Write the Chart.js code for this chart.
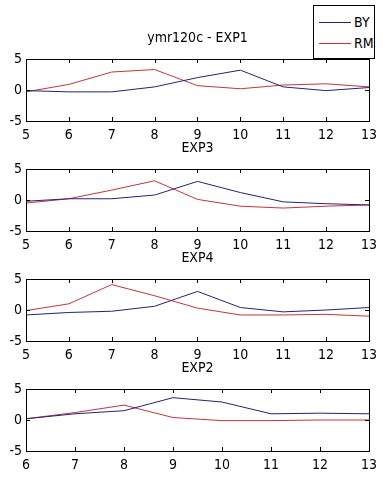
<!DOCTYPE html>
<html>
<head>
<meta charset="utf-8">
<script src="https://cdn.jsdelivr.net/npm/chart.js@4.4.0/dist/chart.umd.min.js"></script>
<style>
  html, body { margin: 0; padding: 0; background: #fff; }
  body { width: 383px; height: 479px; position: relative; overflow: hidden; }
  .panel { position: absolute; left: 0; width: 383px; height: 110px; }
  #legend {
    position: absolute; left: 313px; top: 5px; width: 60px; height: 52px;
    border: 1px solid #000; background: #fff;
    font-family: "Liberation Sans Narrow", "DejaVu Sans Condensed", sans-serif; font-size: 14px;
  }
  .row { position: absolute; left: 0; width: 60px; height: 14px; }
  .row span.ln { position: absolute; left: 5px; top: 7px; width: 32px; height: 1px; }
  .row span.tx { position: absolute; left: 40px; top: 0; line-height: 14px; }
</style>
</head>
<body>
<div class="panel" style="top:31px"><canvas id="c1"></canvas></div>
<div class="panel" style="top:141px"><canvas id="c2"></canvas></div>
<div class="panel" style="top:251px"><canvas id="c3"></canvas></div>
<div class="panel" style="top:361px"><canvas id="c4"></canvas></div>
<div id="legend">
  <div class="row" style="top:9px"><span class="ln" style="background:#22227a"></span><span class="tx">BY</span></div>
  <div class="row" style="top:30px"><span class="ln" style="background:#c8323a"></span><span class="tx">RM</span></div>
</div>
<script>
// series data
const seriesNames = ['BY', 'RM'];
const yTicks = [-5, 0, 5];

const exp1X = [5, 6, 7, 8, 9, 10, 11, 12, 13];
const exp1BY = [-0.1, -0.3, -0.3, 0.5, 2.0, 3.2, 0.5, -0.1, 0.4];
const exp1RM = [-0.3, 0.9, 2.9, 3.3, 0.7, 0.2, 0.8, 1.0, 0.5];

const exp3X = [5, 6, 7, 8, 9, 10, 11, 12, 13];
const exp3BY = [-0.2, 0.2, 0.2, 0.8, 3.0, 1.2, -0.3, -0.6, -0.8];
const exp3RM = [-0.5, 0.2, 1.6, 3.1, 0.1, -1.0, -1.3, -1.0, -0.8];

const exp4X = [5, 6, 7, 8, 9, 10, 11, 12, 13];
const exp4BY = [-0.8, -0.4, -0.2, 0.6, 3.0, 0.4, -0.3, 0.0, 0.4];
const exp4RM = [-0.1, 1.0, 4.1, 2.3, 0.3, -0.8, -0.8, -0.7, -1.0];

const exp2X = [6, 7, 8, 9, 10, 11, 12, 13];
const exp2BY = [0.2, 1.0, 1.5, 3.6, 2.9, 1.0, 1.1, 1.0];
const exp2RM = [0.2, 1.2, 2.4, 0.4, -0.1, -0.1, 0.0, 0.0];

const FONT = "'Liberation Sans Narrow', 'DejaVu Sans Condensed', sans-serif";
const BLUE = '#22227a';
const RED = '#c8323a';

// box + inward ticks + title, matlab style
const matlabAxes = {
    id: 'matlabAxes',
    afterDraw(chart, args, opts) {
        const { ctx, chartArea: a, scales } = chart;
        ctx.save();
        ctx.strokeStyle = '#000';
        ctx.lineWidth = 1;
        ctx.strokeRect(a.left + 0.5, a.top + 0.5, a.right - a.left, a.bottom - a.top);
        ctx.beginPath();
        scales.x.ticks.forEach(t => {
            const px = Math.round(scales.x.getPixelForValue(t.value)) + 0.5;
            ctx.moveTo(px, a.bottom); ctx.lineTo(px, a.bottom - 4);
            ctx.moveTo(px, a.top); ctx.lineTo(px, a.top + 4);
        });
        scales.y.ticks.forEach(t => {
            const py = Math.round(scales.y.getPixelForValue(t.value)) + 0.5;
            ctx.moveTo(a.left, py); ctx.lineTo(a.left + 4, py);
            ctx.moveTo(a.right, py); ctx.lineTo(a.right - 4, py);
        });
        ctx.stroke();
        ctx.fillStyle = '#000';
        ctx.font = '14px ' + FONT;
        ctx.textAlign = 'center';
        ctx.textBaseline = 'alphabetic';
        ctx.fillText(opts.text, (a.left + a.right) / 2, a.top - 17);
        ctx.restore();
    }
};

function makePanel(id, title, xs, by, rm) {
    const ctx = document.getElementById(id).getContext('2d');
    const pts = arr => arr.map((v, i) => ({ x: xs[i], y: v }));
    return new Chart(ctx, {
        type: 'line',
        data: {
            datasets: [
                { label: seriesNames[0], data: pts(by), borderColor: BLUE, borderWidth: 1, pointRadius: 0, tension: 0 },
                { label: seriesNames[1], data: pts(rm), borderColor: RED, borderWidth: 1, pointRadius: 0, tension: 0 }
            ]
        },
        options: {
            responsive: false,
            animation: false,
            layout: { padding: { top: 28, right: 9, left: 0, bottom: 0 }, autoPadding: false },
            plugins: {
                legend: { display: false },
                tooltip: { enabled: false },
                matlabAxes: { text: title }
            },
            scales: {
                x: {
                    type: 'linear',
                    min: xs[0], max: xs[xs.length - 1],
                    grid: { display: false, drawTicks: false },
                    border: { display: false },
                    ticks: { stepSize: 1, color: '#000', padding: 6, maxRotation: 0, font: { family: FONT, size: 14 } },
                    afterFit: s => { s.height = 20; }
                },
                y: {
                    min: yTicks[0], max: yTicks[yTicks.length - 1],
                    grid: { display: false, drawTicks: false },
                    border: { display: false },
                    afterBuildTicks: s => { s.ticks = yTicks.map(v => ({ value: v })); },
                    ticks: { color: '#000', padding: 4, font: { family: FONT, size: 14 } },
                    afterFit: s => { s.width = 26; }
                }
            }
        },
        plugins: [matlabAxes]
    });
}

document.querySelectorAll('canvas').forEach(c => { c.width = 383; c.height = 110; });

makePanel('c1', 'ymr120c - EXP1', exp1X, exp1BY, exp1RM);
makePanel('c2', 'EXP3', exp3X, exp3BY, exp3RM);
makePanel('c3', 'EXP4', exp4X, exp4BY, exp4RM);
makePanel('c4', 'EXP2', exp2X, exp2BY, exp2RM);
</script>
</body>
</html>
